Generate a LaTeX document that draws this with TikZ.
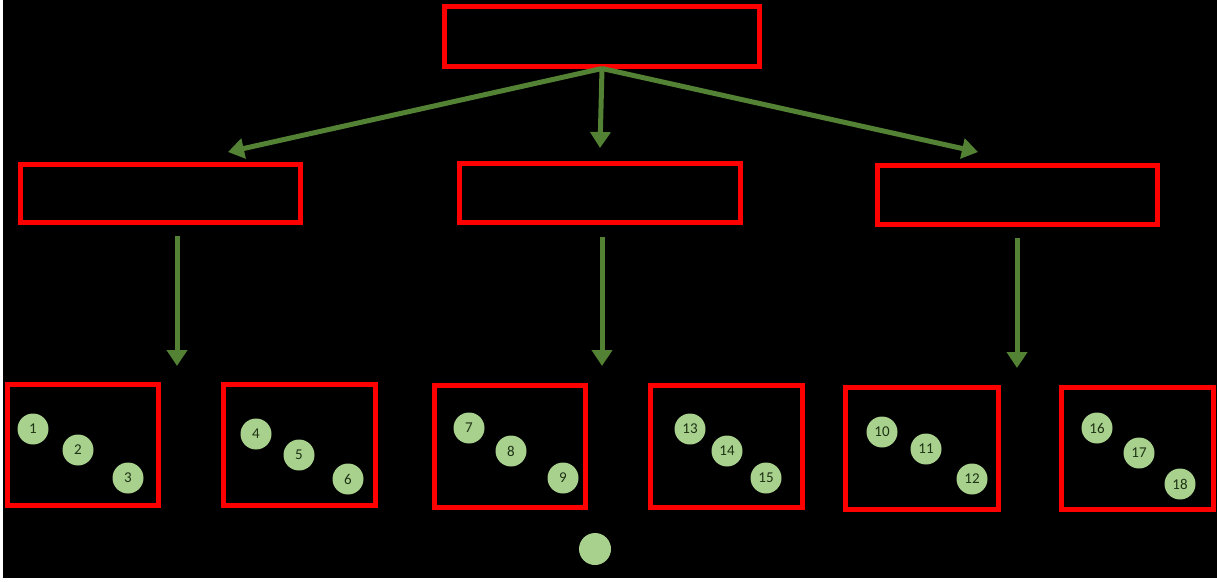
\documentclass[tikz,border=0pt]{standalone}
\usepackage{fontspec}
\setmainfont{Carlito}
\usetikzlibrary{arrows.meta}
\definecolor{boxred}{RGB}{255,0,0}
\definecolor{flowgreen}{RGB}{84,130,53}
\definecolor{ballgreen}{RGB}{169,209,142}
\definecolor{balltext}{RGB}{30,50,20}
\tikzset{x=1pt,y=-1pt,
    frame/.style={
        draw=boxred,
        line width=5pt,
        inner sep=0pt},
    ball/.style={
        circle,
        fill=ballgreen,
        text=balltext,
        minimum size=31pt,
        inner sep=0pt,
        font=\fontsize{15}{17}\selectfont},
    flow/.style={
        draw=flowgreen,
        line width=5pt,
        -{Triangle[width=20pt,length=16pt]}}}

\begin{document}
\begin{tikzpicture}
        \useasboundingbox (0,0) rectangle (1217,581);
        \fill[white] (0,0) rectangle (1217,581);
        \fill[black] (3,0) rectangle (1217,578);

        % boxes
        \node[frame, minimum width=315pt, minimum height=60pt] (top) at (602,36) {};
        \node[frame, minimum width=280pt, minimum height=58pt] (midL) at (160,193) {};
        \node[frame, minimum width=281pt, minimum height=59pt] (midC) at (600,193) {};
        \node[frame, minimum width=280pt, minimum height=59pt] (midR) at (1017,195) {};

        \node[frame, minimum width=151pt, minimum height=121pt] (b1) at (83,445) {};
        \node[frame, minimum width=152pt, minimum height=121pt] (b2) at (299,445) {};
        \node[frame, minimum width=151pt, minimum height=122pt] (b3) at (510,446) {};
        \node[frame, minimum width=152pt, minimum height=122pt] (b4) at (726,446) {};
        \node[frame, minimum width=153pt, minimum height=122pt] (b5) at (922,448) {};
        \node[frame, minimum width=152pt, minimum height=122pt] (b6) at (1137,448) {};

        % balls
        \node[ball] (n1) at (33,429) {1};
        \node[ball] (n2) at (78,450) {2};
        \node[ball] (n3) at (128,478) {3};
        \node[ball] (n4) at (256,434) {4};
        \node[ball] (n5) at (299,455) {5};
        \node[ball] (n6) at (348,479) {6};
        \node[ball] (n7) at (469,428) {7};
        \node[ball] (n8) at (511,451) {8};
        \node[ball] (n9) at (563,478) {9};
        \node[ball] (n13) at (690,429) {13};
        \node[ball] (n14) at (727,451) {14};
        \node[ball] (n15) at (766,478) {15};
        \node[ball] (n10) at (882,432) {10};
        \node[ball] (n11) at (926,449) {11};
        \node[ball] (n12) at (972,479) {12};
        \node[ball] (n16) at (1097,428) {16};
        \node[ball] (n17) at (1139,453) {17};
        \node[ball] (n18) at (1180,484) {18};
        \node[ball, minimum size=32pt] (dot) at (595,549) {};

        % arrow ends
        \coordinate (tL) at (228,152);
        \coordinate (tC) at (600,148);
        \coordinate (tR) at (978,152);
        \coordinate (sL) at (177,236);
        \coordinate (sC) at (602,237);
        \coordinate (sR) at (1017,238);
        \coordinate (eL) at (177,366);
        \coordinate (eC) at (602,366);
        \coordinate (eR) at (1017,368);

        \draw[flow] (top.south) -- (tL);
        \draw[flow] (top.south) -- (tC);
        \draw[flow] (top.south) -- (tR);
        \draw[flow] (sL) -- (eL);
        \draw[flow] (sC) -- (eC);
        \draw[flow] (sR) -- (eR);
    \end{tikzpicture}
\end{document}
